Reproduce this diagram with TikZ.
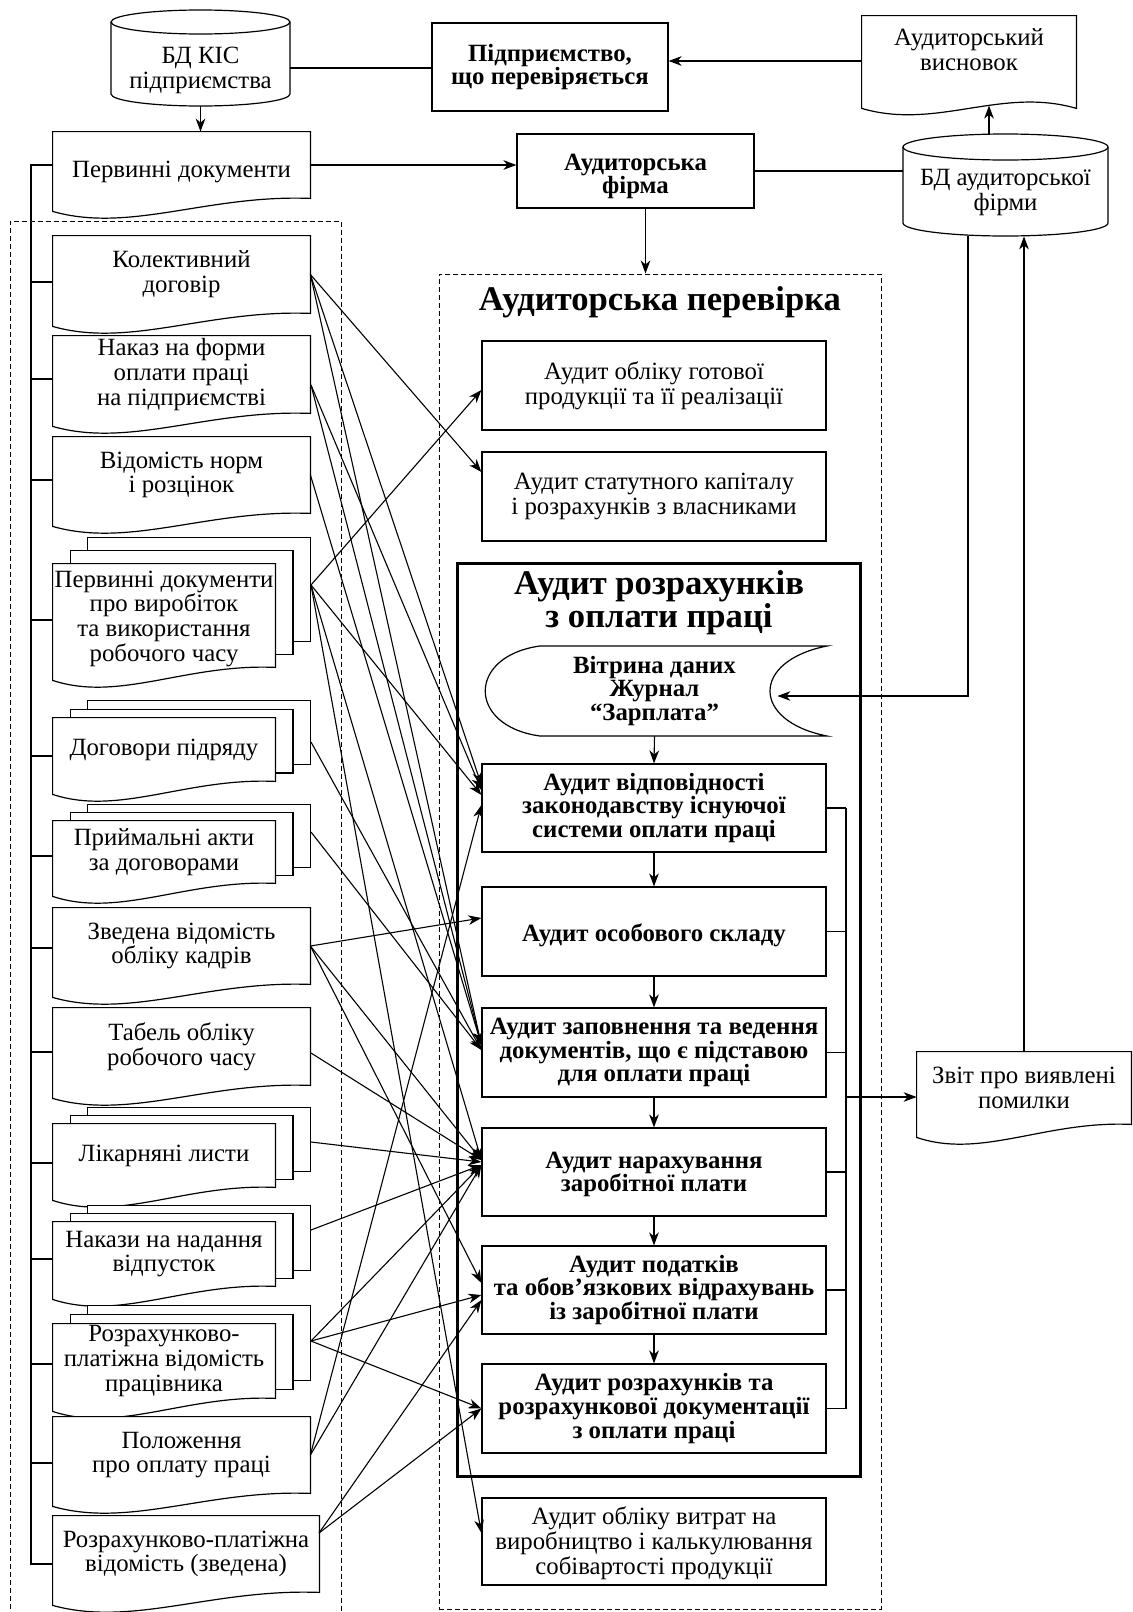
\documentclass[tikz,border=0pt]{standalone}
\usepackage{fontspec}
\setmainfont{Liberation Serif}
\usetikzlibrary{arrows.meta,calc}
\pgfdeclarelayer{bg}
\pgfsetlayers{bg,main}
\newcommand\fs{\fontsize{12.4}{12.4}\selectfont}
\newcommand\fsb{\fontsize{12.4}{11.8}\selectfont\bfseries}
\newcommand\fst{\fontsize{17.3}{16.5}\selectfont\bfseries}
\newcommand\lift[1]{\rule{0pt}{#1}}
\tikzset{
 R/.style n args={4}{at={({(#1+#3)/2},{(#2+#4)/2})}, minimum width={(#3-#1)*0.5pt}, minimum height={(#4-#2)*0.5pt}},
 shp/.style={draw, line width=0.6pt, fill=white},
 txt/.style={inner sep=0pt, align=center, font=\fs},
 btxt/.style={inner sep=0pt, align=center, font=\fsb},
 boxn/.style={draw, line width=0.6pt, inner sep=0pt, align=center, font=\fs},
 bboxn/.style={boxn, font=\fsb},
 arr/.style={-{Stealth[length=6.5pt,width=4.8pt,inset=2pt]}, line width=0.55pt},
 con/.style={line width=0.55pt},
 dsh/.style={line width=0.5pt, dash pattern=on 2.5pt off 1.5pt},
}
% document shape with wavy bottom (right end higher than left end)
\newcommand\wavedoc[2][0]{%
  \draw[shp] ($(#2.south east)+(0,#1)$) -- (#2.north east) -- (#2.north west) -- ($(#2.south west)+(0,#1+13)$)
   .. controls ($(#2.south west)!0.3!(#2.south east)+(0,#1+35)$) and ($(#2.south west)!0.6!(#2.south east)+(0,#1-4)$) .. ($(#2.south east)+(0,#1)$) -- cycle;}
% document shape with symmetric S-wave bottom
\newcommand\symdoc[2]{%
  \draw[shp] ($(#2.south east)+(0,#1)$) -- (#2.north east) -- (#2.north west) -- ($(#2.south west)+(0,#1)$)
   .. controls ($(#2.south west)!0.35!(#2.south east)+(0,#1+22)$) and ($(#2.south west)!0.65!(#2.south east)+(0,#1-22)$) .. ($(#2.south east)+(0,#1)$) -- cycle;}
\newcommand\multidoc[2]{%
  \draw[shp] ($(#1.north west)+(35,-2*#2)$) rectangle ($(#1.south east)+(35,-2*#2)$);
  \draw[shp] ($(#1.north west)+(17.5,-#2)$) rectangle ($(#1.south east)+(17.5,-#2)$);
  \wavedoc{#1}}
\newcommand\cylshape[5]{%
  \pgfmathsetmacro\cxx{(#1+#3)/2}\pgfmathsetmacro\rxx{(#3-#1)/2}%
  \pgfmathsetmacro\yt{#2+#5}\pgfmathsetmacro\yb{#4-#5}%
  \pgfmathsetmacro\kx{0.5523*\rxx}\pgfmathsetmacro\ky{0.5523*#5}%
  \draw[shp] (#1,\yt) -- (#1,\yb) .. controls (#1,\yb+\ky) and (\cxx-\kx,#4) .. (\cxx,#4)
     .. controls (\cxx+\kx,#4) and (#3,\yb+\ky) .. (#3,\yb) -- (#3,\yt);
  \draw[shp] (\cxx,\yt) ellipse [x radius=\rxx, y radius=#5];}
\begin{document}
\begin{tikzpicture}[x=0.5pt,y=-0.5pt]
\useasboundingbox (0,0) rectangle (1132,1612);

% ---------- top area ----------
\node[txt, R={111}{30}{290}{106}] (kis) {\lift{10.5pt}БД КІС\\підприємства};
\node[bboxn, R={432}{23}{668}{111}] (ent) {Підприємство,\\що перевіряється};
\node[txt, R={862}{16}{1076}{84}] (concl) {Аудиторський\\висновок};
\node[txt, R={53}{132}{310}{198}] (pd) {\lift{14.7pt}Первинні документи};
\node[bboxn, R={517}{134}{754}{208}] (firm) {\lift{13.5pt}Аудиторська\\фірма};
\node[txt, R={903}{142}{1108}{236}] (bda) {\lift{12pt}БД аудиторської\\фірми};

% ---------- left documents ----------
\node[txt, R={53}{236}{310}{313}] (d1) {Колективний\\договір};
\node[txt, R={53}{336}{310}{413}] (d2) {Наказ на форми\\оплати праці\\на підприємстві};
\node[txt, R={53}{437}{310}{513}] (d3) {Відомість норм\\і розцінок};
\node[txt, R={53}{564}{275}{667}] (d4) {\lift{11.5pt}Первинні документи\\про виробіток\\та використання\\робочого часу};
\node[txt, R={53}{718}{275}{781}] (d5) {Договори підряду};
\node[txt, R={53}{821}{275}{883}] (d6) {Приймальні акти\\за договорами};
\node[txt, R={53}{908}{310}{984}] (d7) {Зведена відомість\\обліку кадрів};
\node[txt, R={53}{1008}{310}{1085}] (d8) {Табель обліку\\робочого часу};
\node[txt, R={53}{1124}{275}{1187}] (d9) {Лікарняні листи};
\node[txt, R={53}{1222}{275}{1286}] (d10) {Накази на надання\\відпусток};
\node[txt, R={53}{1324}{275}{1398}] (d11) {Розрахунково-\\платіжна відомість\\працівника};
\node[txt, R={53}{1417}{310}{1493}] (d12) {Положення\\про оплату праці};
\node[txt, R={53}{1516}{319}{1592}] (d13) {Розрахунково-платіжна\\відомість (зведена)};

% ---------- right area ----------
\node[dsh, draw, inner sep=0pt, R={439}{274}{881}{1609}] (audbox) {};
\node[inner sep=0pt, font=\fst] (ttl1) at (660,302) {Аудиторська перевірка};
\node[boxn, R={482}{341}{826}{430}] (got) {Аудит обліку готової\\продукції та її реалізації};
\node[boxn, R={482}{452}{826}{541}] (stat) {Аудит статутного капіталу\\і розрахунків з власниками};
\node[draw, line width=1.5pt, inner sep=0pt, R={457}{563}{860}{1476}] (frame) {};
\node[inner sep=0pt, align=center, font=\fst] (ttl2) at (659,603) {Аудит розрахунків\\з оплати праці};
\node[btxt, R={482}{646}{827}{736}] (vit) {Вітрина даних\\Журнал\\“Зарплата”};
\node[bboxn, R={482}{764}{826}{852}] (b1) {Аудит відповідності\\законодавству існуючої\\системи оплати праці};
\node[bboxn, R={482}{887}{826}{976}] (b2) {\lift{12.5pt}Аудит особового складу};
\node[bboxn, R={482}{1008}{826}{1097}] (b3) {Аудит заповнення та ведення\\документів, що є підставою\\для оплати праці};
\node[bboxn, R={482}{1128}{826}{1216}] (b4) {\lift{10.5pt}Аудит нарахування\\заробітної плати};
\node[bboxn, R={482}{1246}{826}{1334}] (b5) {Аудит податків\\та обов’язкових відрахувань\\із заробітної плати};
\node[bboxn, R={482}{1364}{826}{1453}] (b6) {Аудит розрахунків та\\розрахункової документації\\з оплати праці};
\node[boxn, R={482}{1498}{826}{1585}] (b7) {\lift{10.5pt}Аудит обліку витрат на\\виробництво і калькулювання\\собівартості продукції};
\node[txt, R={917}{1052}{1131}{1124}] (rep) {Звіт про виявлені\\помилки};

% ---------- shapes (background) ----------
\begin{pgfonlayer}{bg}
 \cylshape{111}{10}{290}{106}{12}
 \cylshape{903}{134}{1108}{236}{13}
 \symdoc{24}{concl}
 \wavedoc{pd}
 \wavedoc{d1}\wavedoc{d2}\wavedoc{d3}
 \multidoc{d4}{13}
 \multidoc{d5}{8.5}
 \multidoc{d6}{8}
 \wavedoc{d7}\wavedoc{d8}
 \multidoc{d9}{8}
 \multidoc{d10}{8}
 \multidoc{d11}{9}
 \wavedoc{d12}\wavedoc{d13}
 \wavedoc{rep}
 \draw[shp] (540,646) -- (827,646) .. controls (751,661) and (751,721) .. (827,736)
   -- (540,736) .. controls (467,726) and (467,656) .. (540,646) -- cycle;
\end{pgfonlayer}

% left dashed frame
\draw[dsh] (10,1625) -- (10,221) -- (341,221) -- (341,1625);

% ---------- top connectors ----------
\draw[con] (kis.east) -- (kis.east -| ent.west);
\coordinate (cw) at ($(concl.west)+(0,11)$);
\draw[arr] (cw) -- (cw -| ent.east);
\draw[arr] (kis.south) -- (kis.south |- pd.north);
\draw[arr] (pd.east) -- (pd.east -| firm.west);
\draw[con] (firm.east) -- (firm.east -| bda.west);
\draw[arr] ([xshift=5pt]firm.south) -- ([xshift=5pt]firm.south |- audbox.north);
\draw[arr] ($(bda.north)+(-16.5,-8)$) -- ++(0,-28);
\draw[arr] (rep.north) -- (rep.north |- bda.south);
\coordinate (vitc) at ($(vit.east)+(-50,5)$);
\draw[arr] ([xshift=-18.75pt]bda.south) |- (vitc);

% ---------- inner chain ----------
\draw[arr] (vit.south) -- (b1.north);
\draw[arr] (b1.south) -- (b2.north);
\draw[arr] (b2.south) -- (b3.north);
\draw[arr] (b3.south) -- (b4.north);
\draw[arr] (b4.south) -- (b5.north);
\draw[arr] (b5.south) -- (b6.north);
\coordinate (bkx) at (846,808);
\foreach \b in {b1,b2,b3,b4,b5,b6} \draw[con] (\b.east) -- (\b.east -| bkx);
\draw[con] (b1.east -| bkx) -- (b6.east -| bkx);
\coordinate (bka) at (846,1097);
\draw[arr] (bka) -- (bka -| rep.west);

% ---------- bus on the left ----------
\coordinate (bustop) at (31,165);
\coordinate (busbot) at (31,1564);
\draw[con] (pd.west) -- (bustop) -- (busbot) -- (busbot -| d13.west);
\foreach \n/\y in {d1/282,d2/379,d3/480,d4/620,d5/756,d6/856,d7/948,d8/1052,d9/1163,d10/1259,d11/1364,d12/1463}
 {\coordinate (st) at (31,\y); \draw[con] (st) -- (st -| \n.west);}

% ---------- document sources ----------
\coordinate (so2) at (311,385);
\coordinate (so4) at (311,585);
\coordinate (so5) at (311,742);
\coordinate (so6) at (311,832);
\coordinate (so8) at (311,1053);
\coordinate (so9) at (311,1142);
\coordinate (so10) at (311,1230);
\coordinate (so11) at (311,1341);
\coordinate (so13) at (319,1533);

\draw[arr] (d1.east) -- ($(stat.west)+(0,-24.5)$);
\draw[arr] (d1.east) -- ($(b1.west)+(0,-23)$);
\draw[arr] (d1.east) -- ($(b3.west)+(0,-7.5)$);
\draw[arr] (so2) -- ($(b1.west)+(0,-18)$);
\draw[arr] (so2) -- ($(b3.west)+(0,-7.5)$);
\draw[arr] (d3.east) -- ($(b3.west)+(0,-7.5)$);
\draw[arr] (so4) -- ($(got.west)+(0,4.5)$);
\draw[arr] (so4) -- ($(b1.west)+(0,-13)$);
\draw[arr] (so4) -- ($(b4.west)+(0,-12)$);
\draw[arr] (so4) -- ($(b7.west)+(0,-8.5)$);
\draw[arr] (so5) -- ($(b3.west)+(0,-2.5)$);
\draw[arr] (so6) -- ($(b3.west)+(0,-2.5)$);
\draw[arr] (d7.east) -- ($(b2.west)+(0,-13.5)$);
\draw[arr] (d7.east) -- ($(b4.west)+(0,-12)$);
\draw[arr] (d7.east) -- ($(b5.west)+(0,-7)$);
\draw[arr] (so8) -- ($(b4.west)+(0,-12)$);
\draw[arr] (so9) -- ($(b4.west)+(0,-10)$);
\draw[arr] (so10) -- ($(b4.west)+(0,-7)$);
\draw[arr] (so11) -- ($(b4.west)+(0,-7)$);
\draw[arr] (so11) -- ($(b5.west)+(0,5)$);
\draw[arr] (so11) -- (b6.west);
\draw[arr] (d12.east) -- ($(b1.west)+(0,-3)$);
\draw[arr] (d12.east) -- ($(b4.west)+(0,-7)$);
\draw[arr] (so13) -- ($(b5.west)+(0,10)$);
\draw[arr] (so13) -- (b6.west);
\end{tikzpicture}
\end{document}
